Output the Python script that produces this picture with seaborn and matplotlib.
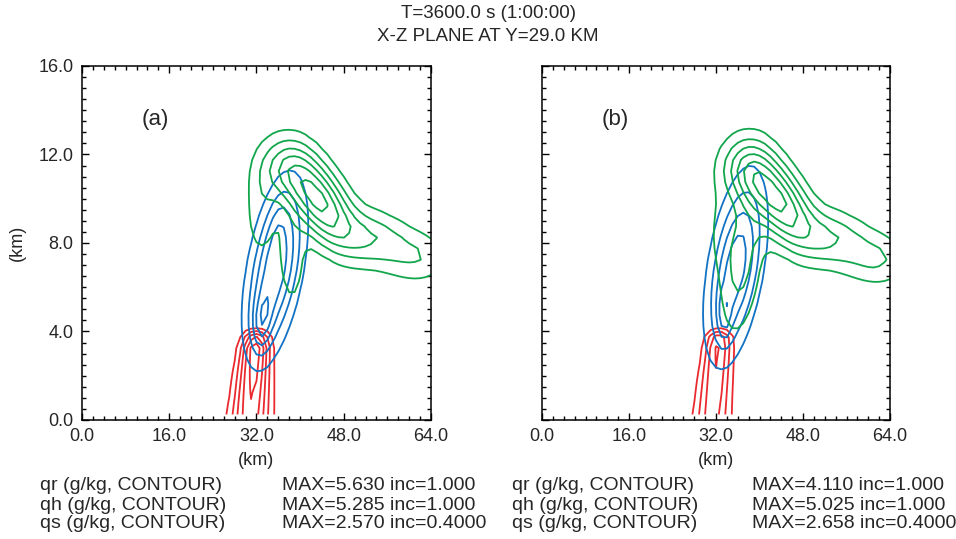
import numpy as np
import matplotlib
matplotlib.use("Agg")
import matplotlib.pyplot as plt
from matplotlib.ticker import MultipleLocator
import seaborn as sns

# ---- model output summary (x-z cross section at y = 29 km, t = 3600 s) ----
panel_tags = ["(a)", "(b)"]
species = ["qr", "qh", "qs"]
species_units = ["qr (g/kg, CONTOUR)", "qh (g/kg, CONTOUR)", "qs (g/kg, CONTOUR)"]
field_max_a = [5.630, 5.285, 2.570]
field_max_b = [4.110, 5.025, 2.658]
field_inc = [1.000, 1.000, 0.4000]
inc_labels = ["1.000", "1.000", "0.4000"]

x_ticks = [0.0, 16.0, 32.0, 48.0, 64.0]
z_ticks = [0.0, 4.0, 8.0, 12.0, 16.0]

# rain shaft: ground centre, lean (km/km), width at ground, width aloft, melting level
rain_a = [30.8, 0.30, 2.5, 1.7, 3.85]
rain_b = [31.2, 0.35, 2.3, 1.6, 3.95]

# hail / snow blobs: x0, z0, sx, sz, shear (dx/dz), relative amplitude
hail_a_x0 = [35.4, 33.0, 36.0]
hail_a_z0 = [6.8, 4.4, 9.0]
hail_a_sx = [3.0, 1.2, 1.4]
hail_a_sz = [2.5, 0.9, 1.0]
hail_a_sh = [0.65, 0.3, 0.5]
hail_a_amp = [3.9, 1.8, 0.5]

hail_b_x0 = [35.6, 33.5]
hail_b_z0 = [6.9, 4.7]
hail_b_sx = [3.0, 0.9]
hail_b_sz = [2.6, 0.8]
hail_b_sh = [0.6, 0.0]
hail_b_amp = [4.6, 1.8]

snow_a_x0 = [43.5, 37.5, 53.0, 62.0, 32.8, 38.5]
snow_a_z0 = [9.9, 11.4, 8.2, 7.3, 9.3, 7.2]
snow_a_sx = [3.5, 3.6, 5.0, 4.0, 2.2, 1.8]
snow_a_sz = [1.3, 1.0, 0.9, 0.8, 1.6, 1.6]
snow_a_sh = [-1.5, 0.0, -1.0, 0.0, 0.0, 0.0]
snow_a_amp = [2.3, 1.1, 1.05, 0.6, 0.55, 0.58]

snow_b_x0 = [43.5, 37.5, 53.0, 62.0, 36.8, 32.5]
snow_b_z0 = [9.9, 11.4, 8.2, 7.2, 7.3, 8.6]
snow_b_sx = [3.5, 3.6, 5.0, 4.0, 2.6, 1.8]
snow_b_sz = [1.3, 1.0, 0.9, 0.8, 2.4, 1.4]
snow_b_sh = [-1.5, 0.0, -1.0, 0.0, 0.4, 0.0]
snow_b_amp = [2.3, 1.1, 1.1, 0.7, 0.92, 0.35]

# ---- model grid ----
xg = np.arange(0.0, 64.01, 1.0)
zg = np.arange(0.25, 16.0, 0.5)
X, Z = np.meshgrid(xg, zg)


def blob_field(x0, z0, sx, sz, sh, amp, fmax):
    f = np.zeros_like(X)
    for a, b, c, d, s, m in zip(x0, z0, sx, sz, sh, amp):
        xr = X - a - s * (Z - b)
        f += m * np.exp(-0.5 * ((xr / c) ** 2 + ((Z - b) / d) ** 2))
    return f * fmax / f.max()


def rain_field(p, fmax):
    xc0, lean, w0, w1, ztop = p
    xc = xc0 + lean * Z
    w = w1 + (w0 - w1) * np.clip(1 - Z / ztop, 0, 1)
    prof = (0.8 + 0.2 * Z / ztop) / (1 + np.exp((Z - ztop) / 0.12))
    f = np.exp(-0.5 * ((X - xc) / w) ** 2) * prof
    return f * fmax / f.max()


fields_a = [
    rain_field(rain_a, field_max_a[0]),
    blob_field(hail_a_x0, hail_a_z0, hail_a_sx, hail_a_sz, hail_a_sh, hail_a_amp, field_max_a[1]),
    blob_field(snow_a_x0, snow_a_z0, snow_a_sx, snow_a_sz, snow_a_sh, snow_a_amp, field_max_a[2]),
]
fields_b = [
    rain_field(rain_b, field_max_b[0]),
    blob_field(hail_b_x0, hail_b_z0, hail_b_sx, hail_b_sz, hail_b_sh, hail_b_amp, field_max_b[1]),
    blob_field(snow_b_x0, snow_b_z0, snow_b_sx, snow_b_sz, snow_b_sh, snow_b_amp, field_max_b[2]),
]

# ---- styling ----
sns.set_theme(style="ticks")
plt.rcParams["font.family"] = ["Liberation Sans", "DejaVu Sans"]
plt.rcParams["axes.linewidth"] = 1.1
colors = sns.color_palette(["#ea2a2e", "#1272c4", "#12a64c"])
FS = 13

fig = plt.figure(figsize=(9.56, 5.39), dpi=100)
ax_a = fig.add_axes([0.0858, 0.2208, 0.365, 0.6568])
ax_b = fig.add_axes([0.567, 0.2208, 0.364, 0.6568])

for ax, fields, fmax, tag, show_y in [
    (ax_a, fields_a, field_max_a, panel_tags[0], True),
    (ax_b, fields_b, field_max_b, panel_tags[1], False),
]:
    for f, m, inc, col in zip(fields, fmax, field_inc, colors):
        levels = np.arange(inc, m, inc)
        ax.contour(X, Z, f, levels=levels, colors=[col], linewidths=1.3)
    ax.set_xlim(0, 64)
    ax.set_ylim(0, 16)
    ax.set_xticks(x_ticks)
    ax.set_xticklabels([f"{v:.1f}" for v in x_ticks], fontsize=FS)
    ax.set_yticks(z_ticks)
    if show_y:
        ax.set_yticklabels([f"{v:.1f}" for v in z_ticks], fontsize=FS)
        ax.set_ylabel("(km)", fontsize=FS, labelpad=9)
    else:
        ax.set_yticklabels([])
    ax.xaxis.set_minor_locator(MultipleLocator(2))
    ax.yaxis.set_minor_locator(MultipleLocator(0.5))
    ax.tick_params(which="both", direction="in", top=True, right=True,
                   color="black", width=1.0)
    ax.tick_params(which="major", length=5, pad=6)
    ax.tick_params(which="minor", length=2.8)
    ax.set_xlabel("(km)", fontsize=FS, labelpad=5)
    for s in ax.spines.values():
        s.set_color("black")
    ax.text(13.4, 13.6, tag, fontsize=16, ha="center", va="center")

fig.text(0.5105, 0.975, "T=3600.0 s (1:00:00)", fontsize=13.5, ha="center", va="center")
fig.text(0.5105, 0.932, "X-Z PLANE AT Y=29.0 KM", fontsize=13.5, ha="center", va="center")

FB = 14
rows_y = [1 - 486 / 539, 1 - 505 / 539, 1 - 524 / 539]
for i, y in enumerate(rows_y):
    fig.text(40 / 956, y, species_units[i], fontsize=FB, va="center")
    fig.text(282 / 956, y, f"MAX={field_max_a[i]:.3f} inc={inc_labels[i]}", fontsize=FB, va="center")
    fig.text(512 / 956, y, species_units[i], fontsize=FB, va="center")
    fig.text(752 / 956, y, f"MAX={field_max_b[i]:.3f} inc={inc_labels[i]}", fontsize=FB, va="center")

fig.savefig("out.png", dpi=100)
